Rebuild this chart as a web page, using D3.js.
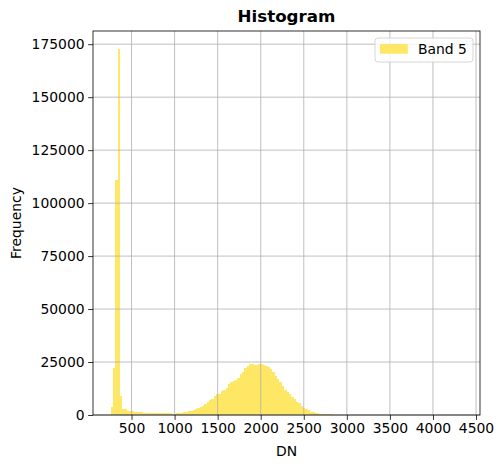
<!DOCTYPE html>
<html><head><meta charset="utf-8">
<script src="https://cdn.jsdelivr.net/npm/d3@7"></script>
<style>body{margin:0;background:#fff}text{font-family:"DejaVu Sans",sans-serif}</style>
</head><body><div id="chart"></div>
<script>
// ---- data ----
const binMin = 257;      // DN of first bin edge
const binMax = 4342;     // DN of last bin edge
const nBins = 150;
const counts = [
  3700, 22400, 111000, 172600, 8800, 3000, 2600, 2000, 1900, 1700,
  1400, 1200, 1400, 1200, 1100, 1000, 1000, 1000, 950, 950,
  900, 900, 900, 900, 850, 800, 600, 700, 900, 1000,
  1100, 1300, 1500, 1800, 2100, 2400, 2800, 3200, 3600, 4300,
  5000, 6200, 7100, 7700, 8900, 9800, 10100, 11400, 11700, 12600,
  14400, 15800, 16000, 16400, 17500, 19300, 20400, 22000, 23200, 24000,
  24000, 23700, 23700, 23900, 24200, 23400, 22900, 22600, 21700, 20100,
  18300, 16900, 15500, 13800, 11900, 10700, 10100, 8700, 7400, 6300,
  5500, 4400, 3200, 2800, 2200, 1600, 1300, 950, 800, 500,
  400, 400, 400, 300, 250, 200, 150, 120, 100, 80,
  70, 60, 50, 40, 35, 30, 25, 20, 18, 15,
  12, 10, 9, 8, 7, 6, 5, 5, 4, 4,
  3, 3, 3, 2, 2, 2, 2, 2, 1, 1,
  1, 1, 1, 1, 1, 1, 1, 1, 1, 1,
  1, 1, 1, 1, 1, 1, 1, 1, 1, 1
];
const xTicks = [500, 1000, 1500, 2000, 2500, 3000, 3500, 4000, 4500];
const yTicks = [0, 25000, 50000, 75000, 100000, 125000, 150000, 175000];
const seriesName = "Band 5";
const title = "Histogram";
const xLabel = "DN";
const yLabel = "Frequency";

// ---- layout ----
const W = 503, H = 468;
const L = 93, R = 480, T = 31, B = 415;
const barColor = "#ffe766";

const binW = (binMax - binMin) / nBins;
const bins = counts.map((c, i) => ({x0: binMin + i * binW, x1: binMin + (i + 1) * binW, c}));

const span = binMax - binMin;
const x = d3.scaleLinear().domain([binMin - 0.05 * span, binMax + 0.05 * span]).range([L, R]);
const y = d3.scaleLinear().domain([0, 1.05 * d3.max(counts)]).range([B, T]);

const svg = d3.select("#chart").append("svg").attr("width", W).attr("height", H);

svg.append("g").selectAll("rect").data(bins).join("rect")
  .attr("x", d => x(d.x0)).attr("width", d => x(d.x1) - x(d.x0))
  .attr("y", d => y(d.c)).attr("height", d => B - y(d.c))
  .attr("fill", barColor).attr("shape-rendering", "crispEdges");

// grid
const grid = svg.append("g").attr("stroke", "#b0b0b0").attr("stroke-width", 0.8);
grid.selectAll(".gx").data(xTicks).join("line")
  .attr("x1", d => x(d)).attr("x2", d => x(d)).attr("y1", T).attr("y2", B);
grid.selectAll(".gy").data(yTicks).join("line")
  .attr("x1", L).attr("x2", R).attr("y1", d => y(d)).attr("y2", d => y(d));

// axes
const xAxis = svg.append("g").attr("transform", `translate(0,${B})`)
  .call(d3.axisBottom(x).tickValues(xTicks).tickSize(4.9).tickPadding(3.5).tickFormat(d3.format("d")));
const yAxis = svg.append("g").attr("transform", `translate(${L},0)`)
  .call(d3.axisLeft(y).tickValues(yTicks).tickSize(4.9).tickPadding(3.5).tickFormat(d3.format("d")));
[xAxis, yAxis].forEach(a => {
  a.select(".domain").remove();
  a.selectAll("line").attr("stroke", "#000").attr("stroke-width", 0.8);
  a.selectAll("text").attr("font-size", "13.9px").attr("fill", "#000").attr("font-family", "DejaVu Sans");
});

// spines
svg.append("rect").attr("x", L).attr("y", T).attr("width", R - L).attr("height", B - T)
  .attr("fill", "none").attr("stroke", "#000").attr("stroke-width", 0.8);

// labels
svg.append("text").attr("x", (L + R) / 2).attr("y", 22).attr("text-anchor", "middle")
  .attr("font-size", "16.7px").attr("font-weight", "bold").text(title);
svg.append("text").attr("x", (L + R) / 2).attr("y", 456).attr("text-anchor", "middle")
  .attr("font-size", "13.9px").text(xLabel);
svg.append("text").attr("transform", `translate(21,${(T + B) / 2}) rotate(-90)`).attr("text-anchor", "middle")
  .attr("font-size", "13.9px").text(yLabel);

// legend
const lg = svg.append("g");
lg.append("rect").attr("x", 375).attr("y", 38).attr("width", 98).attr("height", 24).attr("rx", 3)
  .attr("fill", "#fff").attr("fill-opacity", 0.8).attr("stroke", "#cccccc").attr("stroke-width", 0.8);
lg.append("rect").attr("x", 380).attr("y", 44).attr("width", 27.8).attr("height", 9.7).attr("fill", barColor);
lg.append("text").attr("x", 418).attr("y", 54).attr("font-size", "13.9px").text(seriesName);
</script></body></html>
